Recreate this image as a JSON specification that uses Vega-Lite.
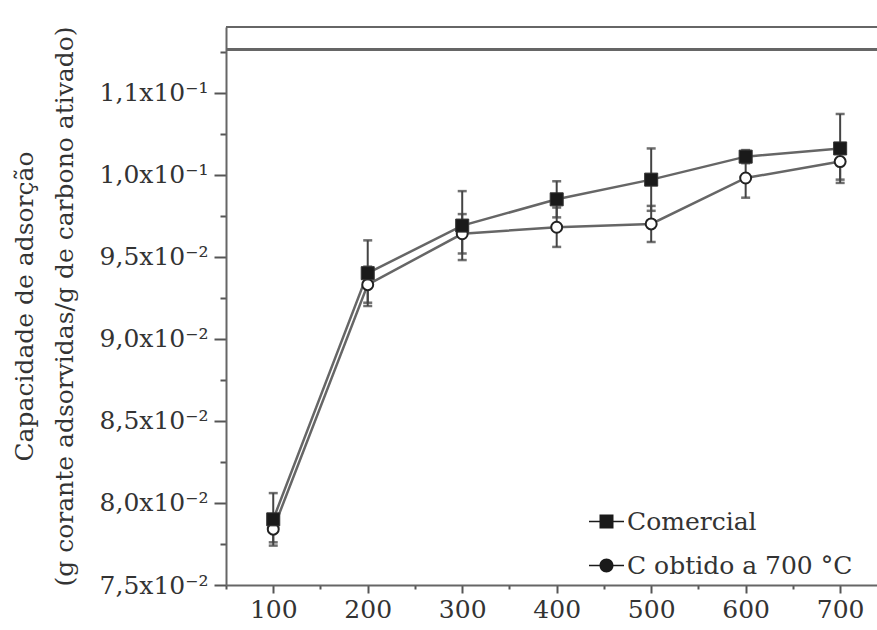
{
  "$schema": "https://vega.github.io/schema/vega-lite/v6.json",
  "width": 651,
  "height": 558,
  "autosize": {"type": "none"},
  "padding": {"left": 226, "top": 27, "right": 0, "bottom": 45},
  "background": "white",
  "config": {
    "view": {"stroke": null},
    "font": "DejaVu Serif",
    "axis": {"grid": false, "domainColor": "#666", "domainWidth": 2, "tickColor": "#555", "tickWidth": 2, "labelFont": "DejaVu Serif", "labelColor": "#333", "titleFont": "DejaVu Serif", "titleColor": "#333", "titleFontWeight": "normal"}
  },
  "data": {
    "values": [
      {"series": "Comercial", "temp": 100, "value": 0.0790, "lo": 0.0774, "hi": 0.0806},
      {"series": "Comercial", "temp": 200, "value": 0.0940, "lo": 0.0920, "hi": 0.0960},
      {"series": "Comercial", "temp": 300, "value": 0.0969, "lo": 0.0948, "hi": 0.0990},
      {"series": "Comercial", "temp": 400, "value": 0.0985, "lo": 0.0974, "hi": 0.0996},
      {"series": "Comercial", "temp": 500, "value": 0.0997, "lo": 0.0978, "hi": 0.1016},
      {"series": "Comercial", "temp": 600, "value": 0.1011, "lo": 0.1007, "hi": 0.1015},
      {"series": "Comercial", "temp": 700, "value": 0.1016, "lo": 0.0995, "hi": 0.1037},
      {"series": "C obtido a 700 °C", "temp": 100, "value": 0.0784, "lo": 0.0776, "hi": 0.0792},
      {"series": "C obtido a 700 °C", "temp": 200, "value": 0.0933, "lo": 0.0922, "hi": 0.0944},
      {"series": "C obtido a 700 °C", "temp": 300, "value": 0.0964, "lo": 0.0952, "hi": 0.0976},
      {"series": "C obtido a 700 °C", "temp": 400, "value": 0.0968, "lo": 0.0956, "hi": 0.0980},
      {"series": "C obtido a 700 °C", "temp": 500, "value": 0.0970, "lo": 0.0959, "hi": 0.0981},
      {"series": "C obtido a 700 °C", "temp": 600, "value": 0.0998, "lo": 0.0986, "hi": 0.1010},
      {"series": "C obtido a 700 °C", "temp": 700, "value": 0.1008, "lo": 0.0997, "hi": 0.1019}
    ]
  },
  "layer": [
    {
      "mark": {"type": "errorbar", "ticks": {"size": 9, "color": "#333", "thickness": 2.5}, "rule": {"color": "#444", "strokeWidth": 2}},
      "encoding": {
        "x": {"field": "temp", "type": "quantitative", "scale": {"domain": [50, 739], "nice": false, "zero": false},
          "axis": {"orient": "bottom", "values": [50, 100, 150, 200, 250, 300, 350, 400, 450, 500, 550, 600, 650, 700],
            "labelExpr": "datum.value % 100 == 0 ? datum.value : ''", "labelFontSize": 25, "labelPadding": 4,
            "tickSize": {"condition": {"test": "datum.value % 100 == 0", "value": 8}, "value": 4}, "title": null}},
        "y": {"field": "lo", "type": "quantitative", "scale": {"domain": [0.075, 0.109], "nice": false, "zero": false},
          "axis": {"orient": "left", "values": [0.075, 0.0775, 0.08, 0.0825, 0.085, 0.0875, 0.09, 0.0925, 0.095, 0.0975, 0.1, 0.1025, 0.105, 0.1075],
            "labelExpr": "abs(datum.value*200 - round(datum.value*200)) > 0.01 ? '' : datum.value > 0.104 ? '1,1x10⁻¹' : datum.value > 0.099 ? '1,0x10⁻¹' : replace(format(datum.value*100, '.1f'), '.', ',') + 'x10⁻²'",
            "labelFontSize": 25, "labelPadding": 6,
            "tickSize": {"condition": {"test": "abs(datum.value*200 - round(datum.value*200)) < 0.01", "value": 12}, "value": 6},
            "title": ["Capacidade de adsorção", "(g corante adsorvidas/g de carbono ativado)"],
            "titleFontSize": 25, "titleLineHeight": 40, "titlePadding": 22}},
        "y2": {"field": "hi"}
      }
    },
    {
      "mark": {"type": "rule", "color": "#666", "strokeWidth": 2},
      "encoding": {"y": {"datum": 0.10765}}
    },
    {
      "mark": {"type": "line", "color": "#666", "strokeWidth": 2.5},
      "encoding": {
        "x": {"field": "temp", "type": "quantitative"},
        "y": {"field": "value", "type": "quantitative"},
        "detail": {"field": "series"}
      }
    },
    {
      "transform": [{"filter": "datum.series == 'C obtido a 700 °C'"}],
      "mark": {"type": "point", "shape": "circle", "filled": true, "fill": "white", "stroke": "#222", "strokeWidth": 2, "size": 120, "opacity": 1},
      "encoding": {
        "x": {"field": "temp", "type": "quantitative"},
        "y": {"field": "value", "type": "quantitative"}
      }
    },
    {
      "transform": [{"filter": "datum.series == 'Comercial'"}],
      "mark": {"type": "point", "shape": "square", "filled": true, "fill": "#1a1a1a", "stroke": "#333", "strokeWidth": 1, "size": 170, "opacity": 1},
      "encoding": {
        "x": {"field": "temp", "type": "quantitative"},
        "y": {"field": "value", "type": "quantitative"}
      }
    },
    {
      "mark": {"type": "point", "filled": true, "fill": "#1a1a1a", "opacity": 0, "size": 1225},
      "encoding": {
        "x": {"field": "temp", "type": "quantitative"},
        "y": {"field": "value", "type": "quantitative"},
        "shape": {"field": "series", "type": "nominal",
          "scale": {"domain": ["Comercial", "C obtido a 700 °C"], "range": ["M-1,-0.045H1V0.045H-1ZM-0.4,-0.4H0.4V0.4H-0.4Z", "M-1,-0.045H1V0.045H-1ZM0.4,0A0.4,0.4 0 1,1 -0.4,0A0.4,0.4 0 1,1 0.4,0Z"]},
          "legend": {"orient": "none", "legendX": 362, "legendY": 476, "title": null, "symbolSize": 1225, "symbolOpacity": 1, "symbolFillColor": "#1a1a1a", "labelFontSize": 25, "labelFont": "DejaVu Serif", "labelColor": "#333", "labelOffset": 2, "rowPadding": 12, "labelLimit": 400}}
      }
    },
    {
      "mark": {"type": "rule", "color": "#666", "strokeWidth": 2},
      "encoding": {"y": {"datum": 0.109}}
    }
  ]
}
